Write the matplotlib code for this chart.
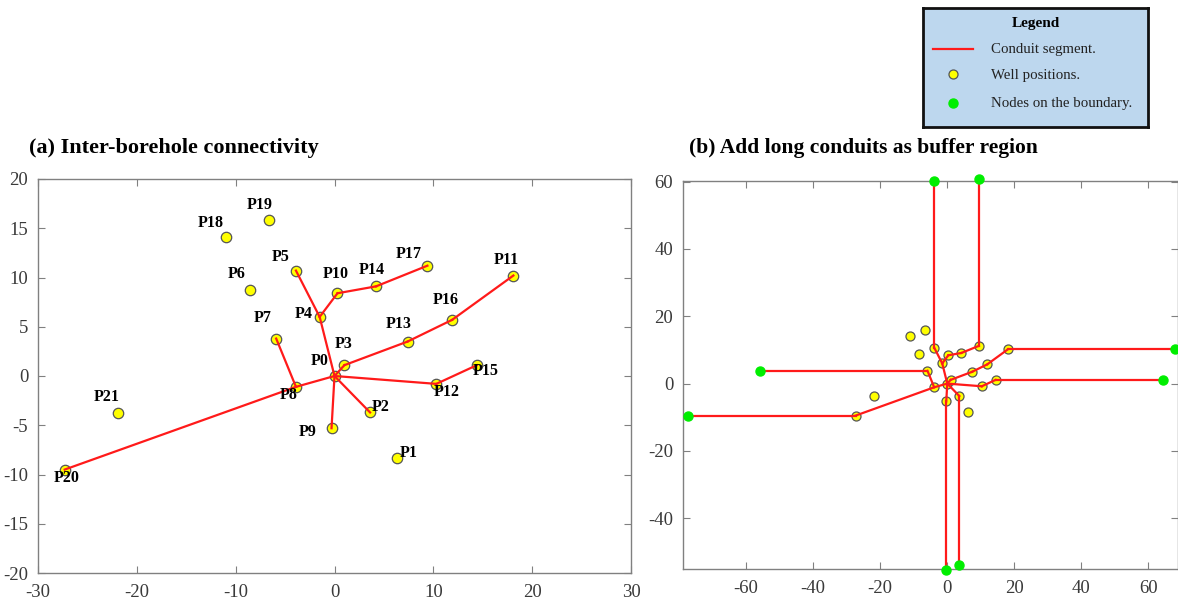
import matplotlib.pyplot as plt
from matplotlib.lines import Line2D

# --- data -------------------------------------------------------------
well_names = [f"P{i}" for i in range(22)]
well_x = [0.0, 6.3, 3.6, 1.0, -1.5, -3.9, -8.5, -5.9, -3.9, -0.3, 0.3,
          18.1, 10.3, 7.4, 4.2, 14.4, 11.9, 9.4, -11.0, -6.6, -27.3, -21.9]
well_y = [0.0, -8.3, -3.7, 1.1, 6.0, 10.7, 8.7, 3.8, -1.1, -5.3, 8.4,
          10.2, -0.8, 3.5, 9.1, 1.1, 5.7, 11.2, 14.1, 15.8, -9.5, -3.8]

# conduit segments between wells (index pairs)
edges = [(0, 3), (3, 13), (13, 16), (16, 11),
         (0, 4), (4, 5), (4, 10), (10, 14), (14, 17),
         (0, 12), (12, 15), (0, 2), (0, 9),
         (0, 8), (8, 7), (8, 20)]

# long conduits to the boundary: well index -> boundary node
boundary_wells = [5, 17, 11, 15, 7, 20, 9, 2]
boundary_x = [-3.9, 9.4, 68.0, 64.3, -55.9, -77.2, -0.3, 3.6]
boundary_y = [60.3, 60.9, 10.2, 1.1, 3.8, -9.5, -55.3, -53.8]

# label offsets (pixels) for the well names in panel (a)
label_offsets = {0: (-15, 15), 1: (12, 5), 2: (11, 5), 3: (-1, 21), 4: (-16, 3),
                 5: (-15, 14), 6: (-14, 16), 7: (-14, 21), 8: (-7, -8), 9: (-24, -4),
                 10: (-2, 19), 11: (-7, 16), 12: (10, -8), 13: (-9, 18), 14: (-4, 16),
                 15: (9, -6), 16: (-6, 20), 17: (-19, 12), 18: (-15, 14), 19: (-10, 15),
                 20: (2, -8), 21: (-11, 16)}

# --- style ------------------------------------------------------------
plt.rcParams['font.family'] = ['Liberation Serif', 'DejaVu Serif']
plt.rcParams['axes.unicode_minus'] = False
RED = '#ff1a1a'
YELLOW = '#ffff00'
GREEN = '#00ee00'
W, H = 1178, 600


def px_axes(fig, x0, y0, x1, y1):
    return fig.add_axes([x0 / W, 1 - y1 / H, (x1 - x0) / W, (y1 - y0) / H])


def style_axes(ax):
    for s in ax.spines.values():
        s.set_color('#808080')
        s.set_linewidth(1.0)
    ax.tick_params(direction='in', top=True, right=True, length=5,
                   labelsize=13.5, colors='#808080', labelcolor='#3a3a3a')
    ax.tick_params(axis='x', pad=8)
    ax.tick_params(axis='y', pad=7)


def draw_wells(ax, size):
    ax.plot(well_x, well_y, 'o', ls='none', ms=size, mfc=YELLOW,
            mec='#555555', mew=0.9, zorder=3)
    for a, b in edges:
        ax.plot([well_x[a], well_x[b]], [well_y[a], well_y[b]],
                color=RED, lw=1.6, zorder=4)


fig = plt.figure(figsize=(W / 100, H / 100), dpi=100)

# --- panel (a) --------------------------------------------------------
ax1 = px_axes(fig, 38, 179, 631, 573)
draw_wells(ax1, 7.5)
for i, name in enumerate(well_names):
    ax1.annotate(name, (well_x[i], well_y[i]), xytext=label_offsets[i],
                 textcoords='offset pixels', ha='center', va='center',
                 fontsize=11.5, fontweight='bold', zorder=5)
ax1.set_xlim(-30, 30)
ax1.set_ylim(-20, 20)
ax1.set_xticks(range(-30, 31, 10))
ax1.set_yticks(range(-20, 21, 5))
style_axes(ax1)
fig.text(29 / W, 1 - 148 / H, '(a) Inter-borehole connectivity',
         fontsize=16, fontweight='bold', va='center', ha='left')

# --- panel (b) --------------------------------------------------------
ax2 = px_axes(fig, 683, 181, 1178, 569)
for k, w in enumerate(boundary_wells):
    ax2.plot([well_x[w], boundary_x[k]], [well_y[w], boundary_y[k]],
             color=RED, lw=1.6, zorder=4)
draw_wells(ax2, 6.5)
ax2.plot(boundary_x, boundary_y, 'o', ls='none', ms=6.5, color=GREEN,
         mec=GREEN, zorder=6, clip_on=False)
ax2.set_xlim(-78.8, 68.8)
ax2.set_ylim(-55.1, 60.2)
ax2.set_xticks(range(-60, 61, 20))
ax2.set_yticks(range(-40, 61, 20))
style_axes(ax2)
fig.text(689 / W, 1 - 148 / H, '(b) Add long conduits as buffer region',
         fontsize=15.5, fontweight='bold', va='center', ha='left')

# --- legend box -------------------------------------------------------
lg = px_axes(fig, 923, 8, 1148, 127)
lg.set_facecolor('#bdd7ee')
lg.set_xlim(0, 225)
lg.set_ylim(119, 0)
lg.set_xticks([])
lg.set_yticks([])
for s in lg.spines.values():
    s.set_linewidth(2)
    s.set_color('#111111')
lg.text(113, 15, 'Legend', ha='center', va='center', fontsize=11,
        fontweight='bold')
lg.add_line(Line2D([10, 50], [41, 41], color=RED, lw=1.6))
lg.plot([30], [66], 'o', ms=6.5, mfc=YELLOW, mec='#555555', mew=0.9)
lg.plot([30], [95], 'o', ms=6.5, color=GREEN)
for yy, txt in zip([41, 67, 95], ['Conduit segment.', 'Well positions.',
                                  'Nodes on the boundary.']):
    lg.text(68, yy, txt, ha='left', va='center', fontsize=10.7, color='#222222')

fig.savefig('out.png', dpi=100)
